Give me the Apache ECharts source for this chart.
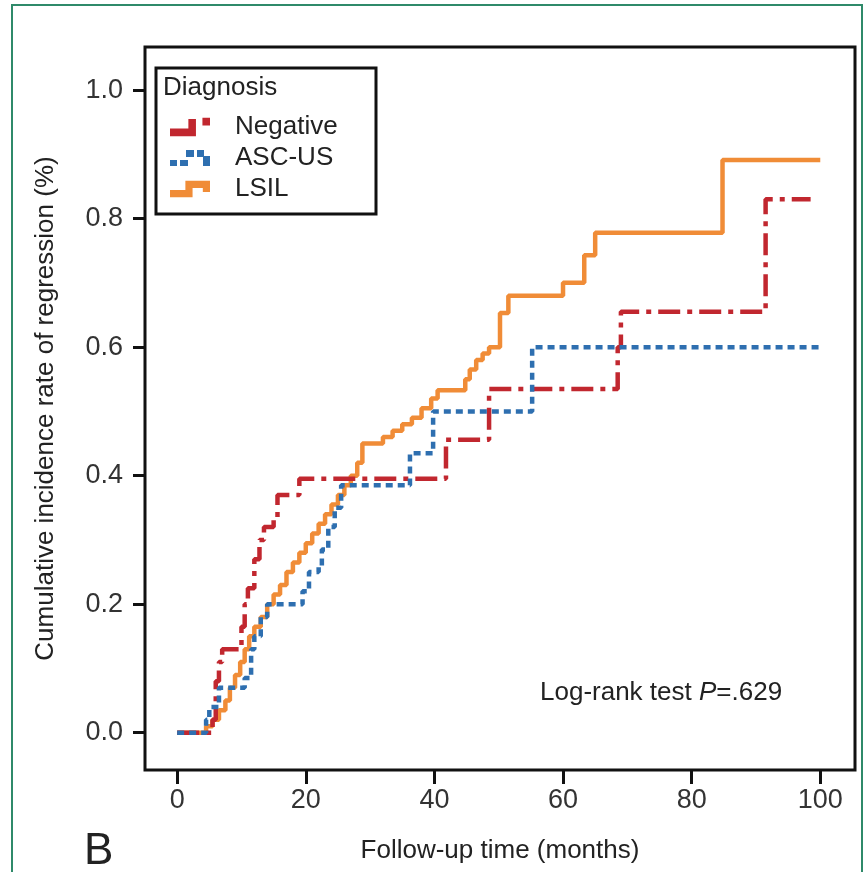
<!DOCTYPE html>
<html>
<head>
<meta charset="utf-8">
<script src="https://cdn.jsdelivr.net/npm/echarts@6/dist/echarts.min.js"></script>
<style>
  html, body { margin: 0; padding: 0; background: #fff; }
  #chart { width: 868px; height: 872px; }
</style>
</head>
<body>
<div id="chart"></div>
<script>
// step curves: value holds from time x onward
var negTime = [0, 5.5, 6.0, 6.5, 7.0, 10.0, 10.5, 11.0, 12.0, 12.8, 13.5, 15.0, 15.6, 19.0, 41.8, 48.5, 68.5, 69.0, 91.5, 98.5];
var negRate = [0, 0.02, 0.08, 0.11, 0.13, 0.165, 0.2, 0.225, 0.27, 0.30, 0.32, 0.335, 0.37, 0.395, 0.456, 0.535, 0.60, 0.655, 0.83, 0.83];

var ascTime = [0, 4.5, 5.0, 6.5, 10.5, 11.5, 12.0, 13.0, 14.0, 19.5, 20.5, 22.0, 22.5, 23.5, 24.5, 25.5, 36.2, 39.8, 55.2, 100];
var ascRate = [0, 0.02, 0.04, 0.07, 0.085, 0.13, 0.15, 0.18, 0.2, 0.22, 0.25, 0.26, 0.285, 0.32, 0.35, 0.385, 0.435, 0.50, 0.60, 0.60];

var lsilTime = [0, 4.5, 5.5, 6.5, 7.5, 8.2, 9.0, 9.8, 10.5, 11.2, 12.0, 13.0, 14.0, 15.0, 16.0, 17.0, 18.0, 19.0, 20.0, 21.0, 22.0, 23.0, 24.0, 25.0, 26.0, 27.0, 28.0, 28.8, 32.0, 33.5, 35.0, 36.5, 38.0, 39.5, 40.5, 44.8, 45.5, 46.5, 47.5, 48.5, 50.2, 51.5, 60.0, 63.3, 65.0, 84.8, 100];
var lsilRate = [0, 0.01, 0.02, 0.035, 0.05, 0.07, 0.09, 0.11, 0.13, 0.15, 0.165, 0.18, 0.2, 0.215, 0.23, 0.25, 0.265, 0.28, 0.295, 0.31, 0.325, 0.34, 0.355, 0.37, 0.385, 0.40, 0.42, 0.45, 0.46, 0.47, 0.48, 0.49, 0.505, 0.52, 0.533, 0.55, 0.565, 0.58, 0.59, 0.60, 0.653, 0.68, 0.70, 0.743, 0.778, 0.891, 0.891];

var groups = ['Negative', 'ASC-US', 'LSIL'];
var xTicks = [0, 20, 40, 60, 80, 100];
var yTicks = [0, 0.2, 0.4, 0.6, 0.8, 1.0];

var font = '"Liberation Sans", Arial, sans-serif';

function pairs(xs, ys) {
  return xs.map(function (x, i) { return [x, ys[i]]; });
}

var chart = echarts.init(document.getElementById('chart'));

var option = {
  backgroundColor: '#fff',
  animation: false,
  textStyle: { fontFamily: font },
  grid: {
    left: 145, top: 47, right: 13, bottom: 102,
    show: true, borderColor: '#111', borderWidth: 3
  },
  xAxis: {
    type: 'value',
    min: -5, max: 105.4,
    name: 'Follow-up time (months)',
    nameLocation: 'middle',
    nameGap: 68,
    nameTextStyle: { fontSize: 26, color: '#222', fontFamily: font },
    axisLine: { show: false, onZero: false },
    splitLine: { show: false },
    axisTick: { show: true, length: 14, lineStyle: { color: '#111', width: 3 }, customValues: xTicks },
    axisLabel: { fontSize: 27, color: '#333', margin: 17, customValues: xTicks, fontFamily: font }
  },
  yAxis: {
    type: 'value',
    min: -0.058, max: 1.067,
    name: 'Cumulative incidence rate of regression (%)',
    nameLocation: 'middle',
    nameGap: 86,
    nameTextStyle: { fontSize: 26, color: '#222', fontFamily: font },
    axisLine: { show: false, onZero: false },
    splitLine: { show: false },
    axisTick: { show: true, length: 12, lineStyle: { color: '#111', width: 3 }, customValues: yTicks },
    axisLabel: {
      fontSize: 27, color: '#333', margin: 22, customValues: yTicks, fontFamily: font,
      formatter: function (v) { return v.toFixed(1); }
    }
  },
  legend: {
    orient: 'vertical',
    left: 165, top: 109, z: 10,
    itemWidth: 40, itemHeight: 20, itemGap: 5,
    textStyle: { fontSize: 26, lineHeight: 26, color: '#222', padding: [0, 0, 0, 20], fontFamily: font },
    data: [
      { name: 'Negative', icon: 'path://M0,12H22V19H0Z M17,3H24V19H17Z M30,2H37V9H30Z' },
      { name: 'ASC-US', icon: 'path://M0,13H7V19H0Z M10,13H18V19H10Z M16,3H24V10H16Z M27,3H34V10H27Z M33,9H40V19H33Z' },
      { name: 'LSIL', icon: 'path://M0,12H20V19H0Z M15,3H22V19H15Z M17,3H39V10H17Z M32,3H39V14H32Z' }
    ]
  },
  graphic: [
    { type: 'rect', shape: { x: 12, y: 5, width: 850, height: 900 }, style: { fill: 'none', stroke: '#2f8a6a', lineWidth: 2 }, z: 1 },
    { type: 'rect', shape: { x: 156, y: 68, width: 220, height: 146 }, style: { fill: '#fff', stroke: '#111', lineWidth: 3 }, z: 5 },
    { type: 'text', left: 163, top: 75, style: { text: 'Diagnosis', fontSize: 26, fill: '#222', fontFamily: font }, z: 6 },
    {
      type: 'text', left: 540, top: 680, z: 6,
      style: {
        text: '{a|Log-rank test }{b|P}{a|=.629}',
        rich: {
          a: { fontSize: 26, fill: '#222', fontFamily: font },
          b: { fontSize: 26, fill: '#222', fontStyle: 'italic', fontFamily: font }
        }
      }
    },
    { type: 'text', left: 84, top: 830, style: { text: 'B', fontSize: 44, fill: '#222', fontFamily: font }, z: 6 }
  ],
  series: [
    {
      name: groups[0], type: 'line', step: 'end', showSymbol: false,
      data: pairs(negTime, negRate),
      itemStyle: { color: '#c1272f' },
      lineStyle: { color: '#c1272f', width: 4.5, type: [22, 7, 5, 7] },
      z: 3
    },
    {
      name: groups[1], type: 'line', step: 'end', showSymbol: false,
      data: pairs(ascTime, ascRate),
      itemStyle: { color: '#2e6fb0' },
      lineStyle: { color: '#2e6fb0', width: 4.5, type: [7, 5] },
      z: 4
    },
    {
      name: groups[2], type: 'line', step: 'end', showSymbol: false,
      data: pairs(lsilTime, lsilRate),
      itemStyle: { color: '#f08c37' },
      lineStyle: { color: '#f08c37', width: 4.5 },
      z: 2
    }
  ]
};

chart.setOption(option);
</script>
</body>
</html>
